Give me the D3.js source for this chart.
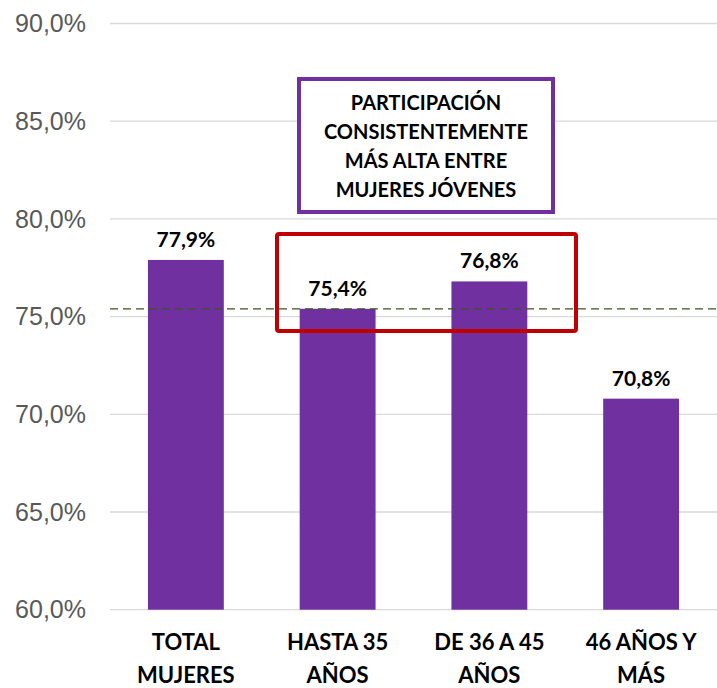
<!DOCTYPE html>
<meta charset="utf-8">
<head>
<style>
    body {margin: 0; background: #fff;}
</style>
</head>
<body>
<div class="chart"></div>
<script src="https://d3js.org/d3.v7.min.js"></script>
<script>
var categories = [["TOTAL", "MUJERES"], ["HASTA 35", "AÑOS"], ["DE 36 A 45", "AÑOS"], ["46 AÑOS Y", "MÁS"]];
var values = [77.9, 75.4, 76.8, 70.8];
var yTicks = [60, 65, 70, 75, 80, 85, 90];
var refValue = 75.4;
var noteLines = ["PARTICIPACIÓN", "CONSISTENTEMENTE", "MÁS ALTA ENTRE", "MUJERES JÓVENES"];

var width = 717, height = 688;
var plotLeft = 110, plotRight = 717, plotTop = 23.5, plotBottom = 609.7;

var x = d3.scaleBand().domain(d3.range(values.length)).range([plotLeft, plotRight])
    .paddingInner(0.5).paddingOuter(0.25);
var y = d3.scaleLinear().domain([60, 90]).range([plotBottom, plotTop]);
var fmt = function (v) { return d3.format(".1f")(v).replace(".", ",") + "%"; };

var svg = d3.select(".chart").append("svg")
    .attr("width", width)
    .attr("height", height);

// grid
svg.append("g").selectAll("line").data(yTicks).enter().append("line")
    .attr("x1", plotLeft).attr("x2", plotRight)
    .attr("y1", function (d) { return y(d); })
    .attr("y2", function (d) { return y(d); })
    .attr("stroke", "#d9d9d9").attr("stroke-width", 1.3);

// y labels
svg.append("g").selectAll("text").data(yTicks).enter().append("text")
    .attr("x", 86)
    .attr("y", function (d) { return y(d); })
    .attr("dy", "0.35em")
    .attr("text-anchor", "end")
    .style("font-family", "Arial, 'Liberation Sans', sans-serif")
    .style("font-size", "25px")
    .style("fill", "#595959")
    .text(function (d) { return fmt(d); });

// bars
svg.append("g").selectAll("rect").data(values).enter().append("rect")
    .attr("x", function (d, i) { return x(i); })
    .attr("width", x.bandwidth())
    .attr("y", function (d) { return y(d); })
    .attr("height", function (d) { return y(60) - y(d); })
    .style("fill", "#7030A0");

// value labels
svg.append("g").selectAll("text").data(values).enter().append("text")
    .attr("x", function (d, i) { return x(i) + x.bandwidth() / 2; })
    .attr("y", function (d) { return y(d) - 13; })
    .attr("text-anchor", "middle")
    .style("font-family", "Lato, 'Open Sans', sans-serif")
    .style("font-weight", "bold")
    .style("font-size", "21px")
    .text(function (d) { return fmt(d); });

// reference dashed line
svg.append("line")
    .attr("x1", plotLeft).attr("x2", plotRight)
    .attr("y1", y(refValue)).attr("y2", y(refValue))
    .attr("stroke", "#375623").attr("stroke-width", 1.3)
    .attr("stroke-dasharray", "8,5");

// x labels
var xl = svg.append("g").selectAll("text").data(categories).enter().append("text")
    .attr("x", function (d, i) { return x(i) + x.bandwidth() / 2; })
    .attr("y", 650)
    .attr("text-anchor", "middle")
    .style("font-family", "Lato, 'Open Sans', sans-serif")
    .style("font-weight", "bold")
    .style("font-size", "22px");
xl.selectAll("tspan").data(function (d) { return d; }).enter().append("tspan")
    .attr("x", function () { return d3.select(this.parentNode).attr("x"); })
    .attr("dy", function (d, i) { return i ? 33 : 0; })
    .text(function (d) { return d; });

// red highlight box
svg.append("rect")
    .attr("x", 277).attr("y", 234)
    .attr("width", 299).attr("height", 97)
    .attr("rx", 2)
    .attr("fill", "none")
    .attr("stroke", "#C00000").attr("stroke-width", 4);

// purple note box
svg.append("rect")
    .attr("x", 299).attr("y", 79)
    .attr("width", 254).attr("height", 133)
    .attr("fill", "#fff")
    .attr("stroke", "#7030A0").attr("stroke-width", 4);

svg.append("g").selectAll("text").data(noteLines).enter().append("text")
    .attr("x", 426)
    .attr("y", function (d, i) { return 110 + i * 29; })
    .attr("text-anchor", "middle")
    .style("font-family", "Lato, 'Open Sans', sans-serif")
    .style("font-weight", "bold")
    .style("font-size", "20px")
    .text(function (d) { return d; });
</script>
</body>
